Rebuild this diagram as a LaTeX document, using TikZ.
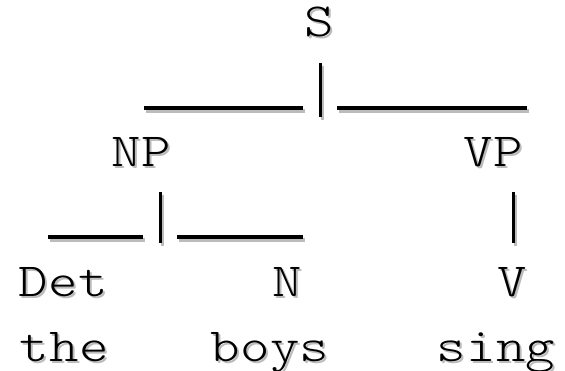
\documentclass[tikz,border=0pt]{standalone}
\usepackage{fontspec}
\usepackage{graphicx}
\newfontfamily\treefont{Latin Modern Mono Light}
\definecolor{shade}{RGB}{188,188,188}
% fixed character pitch, like a typewriter grid
\def\gridpitch{29.8pt}
\def\spaced#1{\spacedi#1\relax}
\def\spacedi#1{\ifx#1\relax\else\makebox[\gridpitch]{\scalebox{1.18}[1]{#1}}\expandafter\spacedi\fi}
\tikzset{
  word/.style={anchor=base, inner sep=0pt, font=\fontsize{47.5}{47.5}\selectfont\treefont},
  wordshade/.style={word, text=shade},
  rule/.style={line width=3.2pt},
  ruleshade/.style={rule, draw=shade},
}
% a word with its grey drop shadow
\newcommand\treeword[4]{%
  \node[wordshade] (#1-sh) at (#2+2,#3+2) {\spaced{#4}};
  \node[word] (#1) at (#2,#3) {\spaced{#4}};}
% a rule between two named points, with its shadow
\newcommand\treerule[2]{%
  \draw[ruleshade] ([shift={(2,3)}]#1) -- ([shift={(2,3)}]#2);
  \draw[rule] (#1) -- (#2);}
\begin{document}
\begin{tikzpicture}[x=1pt,y=-1pt]
  \useasboundingbox (0,0) rectangle (565,371);
  % branch marks
  \coordinate (sL1) at (144,108);   \coordinate (sL2) at (303,108);
  \coordinate (sV1) at (320.5,63);  \coordinate (sV2) at (320.5,117);
  \coordinate (sR1) at (337,108);   \coordinate (sR2) at (527,108);
  \coordinate (nL1) at (48,237);    \coordinate (nL2) at (143,237);
  \coordinate (nV1) at (160.5,192); \coordinate (nV2) at (160.5,243);
  \coordinate (nR1) at (177,237);   \coordinate (nR2) at (303,237);
  \coordinate (vV1) at (513.5,192); \coordinate (vV2) at (513.5,243);
  \treerule{sL1}{sL2}
  \treerule{sV1}{sV2}
  \treerule{sR1}{sR2}
  \treerule{nL1}{nL2}
  \treerule{nV1}{nV2}
  \treerule{nR1}{nR2}
  \treerule{vV1}{vV2}
  % labels and words
  \treeword{S}{319}{37}{S}
  \treeword{NP}{141}{167}{NP}
  \treeword{VP}{493}{167}{VP}
  \treeword{Det}{63}{297}{Det}
  \treeword{N}{287}{297}{N}
  \treeword{V}{512}{297}{V}
  \treeword{the}{64}{361}{the}
  \treeword{boys}{270}{361}{boys}
  \treeword{sing}{496}{361}{sing}
\end{tikzpicture}
\end{document}
